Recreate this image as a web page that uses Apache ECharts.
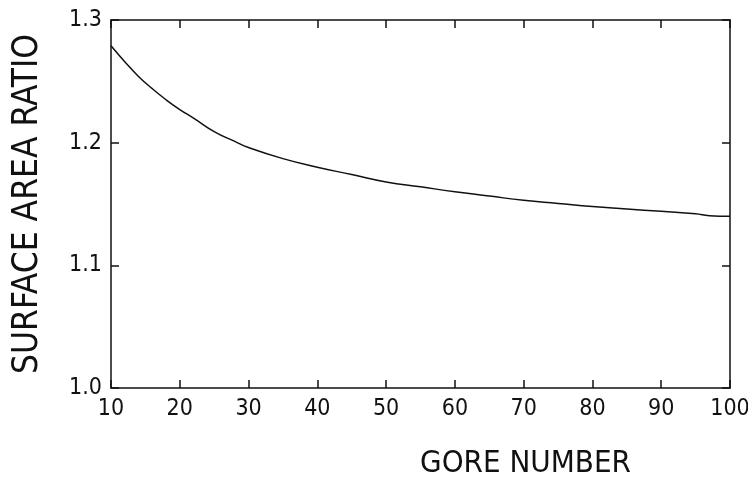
<!DOCTYPE html>
<html>
<head>
<meta charset="utf-8">
<script src="https://cdn.jsdelivr.net/npm/echarts@6/dist/echarts.min.js"></script>
<style>
  html, body { margin: 0; padding: 0; background: #fff; }
  #main { width: 748px; height: 478px; }
</style>
</head>
<body>
<div id="main"></div>
<script>
// gore number (x) and surface area ratio (y)
const goreNumber = [10, 12, 14, 16, 18, 20, 22, 25, 28, 30, 35, 40, 45, 50, 55, 60, 65, 70, 75, 80, 85, 90, 95, 97, 100]
const areaRatio = [1.279, 1.266, 1.254, 1.244, 1.235, 1.227, 1.220, 1.209, 1.201, 1.196, 1.187, 1.180, 1.174, 1.168, 1.164, 1.160, 1.1565, 1.153, 1.1505, 1.148, 1.146, 1.144, 1.142, 1.1405, 1.140]

const font = 'DejaVu Sans Condensed'
const ink = '#111'

const myChart = echarts.init(document.getElementById('main'))

// axis pieces shared by the main and mirror axes
const line = { show: true, lineStyle: { color: ink, width: 1.5 } }
const tick = { show: true, inside: true, length: 8, lineStyle: { color: ink, width: 1.5 } }

let option = {
  animation: false,
  grid: { left: 111, right: 18, top: 20, bottom: 90, outerBoundsMode: 'none' },
  xAxis: [
    {
      type: 'value',
      min: 10,
      max: 100,
      interval: 10,
      axisLine: line,
      axisTick: tick,
      splitLine: { show: false },
      axisLabel: { color: ink, fontFamily: font, fontSize: 23, margin: 10 },
      name: 'GORE NUMBER',
      nameLocation: 'middle',
      nameGap: 60,
      nameTextStyle: { color: ink, fontFamily: font, fontSize: 31, padding: [0, 0, 0, 210] }
    },
    {
      // mirror axis on top, ticks only
      type: 'value',
      position: 'top',
      min: 10,
      max: 100,
      interval: 10,
      axisLine: line,
      axisTick: tick,
      axisLabel: { show: false },
      splitLine: { show: false }
    }
  ],
  yAxis: [
    {
      type: 'value',
      min: 1.0,
      max: 1.3,
      interval: 0.1,
      axisLine: line,
      axisTick: tick,
      splitLine: { show: false },
      axisLabel: {
        color: ink,
        fontFamily: font,
        fontSize: 23,
        margin: 9,
        formatter: (v) => v.toFixed(1)
      },
      name: 'SURFACE AREA RATIO',
      nameLocation: 'middle',
      nameGap: 66,
      nameRotate: 90,
      nameTextStyle: { color: ink, fontFamily: font, fontSize: 35 }
    },
    {
      // mirror axis on the right
      type: 'value',
      position: 'right',
      min: 1.0,
      max: 1.3,
      interval: 0.1,
      axisLine: line,
      axisTick: tick,
      axisLabel: { show: false },
      splitLine: { show: false }
    }
  ],
  series: [
    {
      type: 'line',
      smooth: true,
      showSymbol: false,
      lineStyle: { color: ink, width: 1.5 },
      data: goreNumber.map((x, i) => [x, areaRatio[i]])
    }
  ]
}

myChart.setOption(option)
</script>
</body>
</html>
